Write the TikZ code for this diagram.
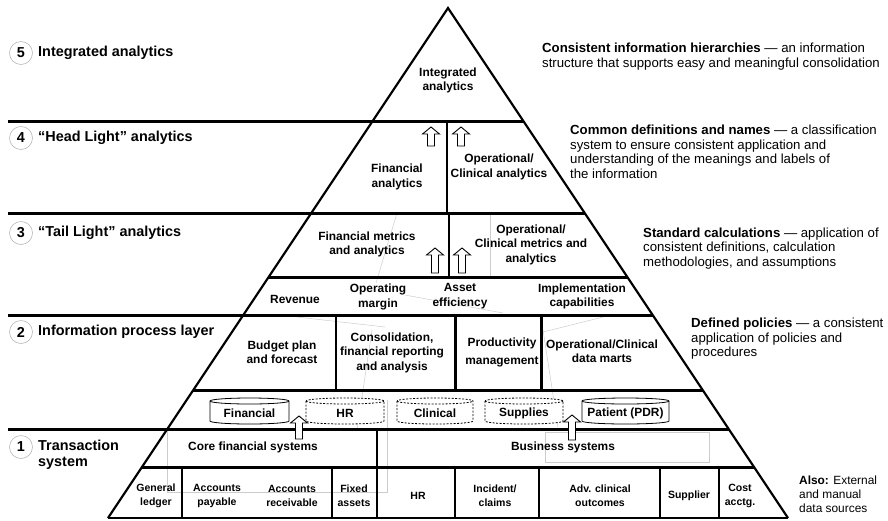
\documentclass[tikz,border=0pt]{standalone}
\usepackage{fontspec}
\setmainfont{Liberation Sans}
\newcommand\dbcyl[5]{%
  \path[#1] (#2,#4+3) -- (#2,#5-3) arc[start angle=180,end angle=360,x radius={(#3-#2)/2*1pt},y radius=3pt]
     -- (#3,#4+3) arc[start angle=0,end angle=180,x radius={(#3-#2)/2*1pt},y radius=3pt] -- cycle;
  \path[#1,fill=none] (#2,#4+3) arc[start angle=180,end angle=360,x radius={(#3-#2)/2*1pt},y radius=3pt];}
\begin{document}
\begin{tikzpicture}[x=1pt,y=-1pt,
  hline/.style={line width=3pt},
  vline/.style={line width=2.8pt},
  side/.style={line width=2.2pt},
  baseline/.style={line width=1.2pt},
  faint/.style={draw=black!20, line width=0.5pt},
  inner/.style={font=\fontsize{11.9}{14.5}\selectfont\bfseries, align=center, inner sep=0pt},
  small/.style={font=\fontsize{10.5}{14}\selectfont\bfseries, align=center, inner sep=0pt},
  lvl/.style={font=\fontsize{14.4}{16}\selectfont\bfseries, anchor=west, inner sep=0pt, align=left},
  num/.style={circle, draw=black!28, line width=0.6pt, minimum size=23pt, inner sep=0pt, font=\fontsize{14.4}{16}\selectfont\bfseries},
  desc/.style={font=\fontsize{13.2}{14.5}\selectfont, anchor=west, align=left, inner sep=0pt},
  also/.style={font=\fontsize{11.9}{14}\selectfont, anchor=west, align=left, inner sep=0pt},
  dbsolid/.style={draw, line width=0.8pt, fill=white},
  dbdash/.style={draw, line width=0.8pt, dash pattern=on 2pt off 1.5pt, fill=white},
  arrowbox/.style={draw, line width=0.9pt, fill=white, line join=miter},
  pics/uparr/.style={code={\draw[arrowbox] (-3.5,0) -- (-3.5,{7-#1}) -- (-8.5,{7-#1}) -- (0,-#1) -- (8.5,{7-#1}) -- (3.5,{7-#1}) -- (3.5,0) -- cycle;}}
]
\useasboundingbox (0,0) rectangle (888,520);

% pyramid corners
\coordinate (apex) at (448,8);
\coordinate (bl) at (108,518);
\coordinate (br) at (788,518);

% faint background strokes
\draw[faint] (397,213) -- (376,283);
\draw[faint] (405,295) -- (503,313);
\draw[faint] (297,317) -- (385,327);
\draw[faint] (490,213) -- (490,277);
\draw[faint] (543,332) -- (603,317);
\draw[faint] (543,330) -- (558,427);
\draw[faint] (372,330) -- (357,430);
\draw[faint] (545,432) rectangle (709,462);
\draw[faint] (167,429) -- (167,492) -- (387,492) -- (387,400);

% horizontal lines
\draw[hline] (8,121) -- (523.3,121);
\draw[hline] (8,213) -- (584.7,213);
\draw[hline] (268.7,277) -- (627.3,277);
\draw[hline] (8,315) -- (652.7,315);
\draw[hline] (193.3,390) -- (702.7,390);
\draw[hline] (8,429) -- (728.7,429);
\draw[hline] (142,467) -- (754,467);
\draw[baseline] (bl) -- (br);

% vertical lines
\draw[vline] (447,121) -- (447,213);
\draw[vline] (449,213) -- (449,277);
\draw[vline] (336,315) -- (336,390);
\draw[vline] (455.5,315) -- (455.5,390);
\draw[vline] (541.5,315) -- (541.5,390);
\draw[vline] (377,429) -- (377,518);
\foreach \x in {182,332,455,539,660,719} \draw[vline] (\x,467) -- (\x,518);

% pyramid sides
\draw[side, line join=miter] (bl) -- (apex) -- (br);

% left level labels
\node[num] (n5) at (21,53) {5};
\node[lvl] (l5) at (38,53) {Integrated analytics};
\node[num] (n4) at (21,138) {4};
\node[lvl] (l4) at (38,138) {“Head Light” analytics};
\node[num] (n3) at (21,233) {3};
\node[lvl] (l3) at (38,233) {“Tail Light” analytics};
\node[num] (n2) at (21,332) {2};
\node[lvl] (l2) at (38,332) {Information process layer};
\node[num] (n1) at (21,447) {1};
\node[lvl] (l1) at (38,455) {Transaction\\system};

% pyramid contents
\node[inner] (ia) at (448,80.5) {Integrated\\analytics};
\node[inner] (fa) at (397,177) {Financial\\analytics};
\node[inner] (oca) at (499,167) {Operational/\\Clinical analytics};
\node[inner] (fma) at (367,244.5) {Financial metrics\\and analytics};
\node[inner] (ocma) at (531,244.5) {Operational/\\Clinical metrics and\\analytics};
\node[inner] (rev) at (295,299) {Revenue};
\node[inner] (om) at (378,297) {Operating\\margin};
\node[inner] (ae) at (460,296) {Asset\\efficiency};
\node[inner] (ic) at (582,296.5) {Implementation\\capabilities};
\node[inner] (bpf) at (282,352) {Budget plan\\and forecast};
\node[inner] (cfr) at (392,352.5) {Consolidation,\\financial reporting\\and analysis};
\node[inner] (pm) at (502,352.5) {Productivity\\[3pt]management};
\node[inner] (ocdm) at (602,351) {Operational/Clinical\\data marts};

% data stores
\dbcyl{dbsolid}{210}{289}{398}{424}
\dbcyl{dbdash}{306}{384}{398}{424}
\dbcyl{dbdash}{397}{473}{398}{424}
\dbcyl{dbdash}{485}{563}{398}{424}
\dbcyl{dbsolid}{582}{669}{398}{424}
\node[inner] (dfin) at (249.5,413) {Financial};
\node[inner] (dhr) at (345,413) {HR};
\node[inner] (dcli) at (435,413) {Clinical};
\node[inner] (dsup) at (524,413) {Supplies};
\node[inner] (dpat) at (625.5,413) {Patient (PDR)};

% transaction systems
\node[inner] (cfs) at (253,447) {Core financial systems};
\node[inner] (bs) at (563,447) {Business systems};
\node[small] (gl) at (156,496) {General\\ledger};
\node[small] (ap) at (217,496) {Accounts\\payable};
\node[small] (ar) at (292,496) {Accounts\\receivable};
\node[small] (fx) at (354,496) {Fixed\\assets};
\node[small] (hr) at (418,496) {HR};
\node[small] (icl) at (495,496) {Incident/\\claims};
\node[small] (aco) at (600,496) {Adv. clinical\\outcomes};
\node[small] (sup) at (689,496) {Supplier};
\node[small] (ca) at (740,496) {Cost\\acctg.};

% block arrows
\pic at (431,146) {uparr=19};
\pic at (461,146) {uparr=19};
\pic at (435,273) {uparr=25};
\pic at (462,273) {uparr=25};
\pic at (299,439) {uparr=23};
\pic at (572,440) {uparr=25};

% right descriptions
\node[desc] (d5) at (542,56.5) {\textbf{Consistent information hierarchies} — an information\\structure that supports easy and meaningful consolidation};
\node[desc] (d4) at (570,152) {\textbf{Common definitions and names} — a classification\\system to ensure consistent application and\\understanding of the meanings and labels of\\the information};
\node[desc] (d3) at (643,248.5) {\textbf{Standard calculations} — application of\\consistent definitions, calculation\\methodologies, and assumptions};
\node[desc] (d2) at (691,339) {\textbf{Defined policies} — a consistent\\application of policies and\\procedures};
\node[also] (d1) at (799,494) {\textbf{Also:} External\\and manual\\data sources};
\end{tikzpicture}
\end{document}
